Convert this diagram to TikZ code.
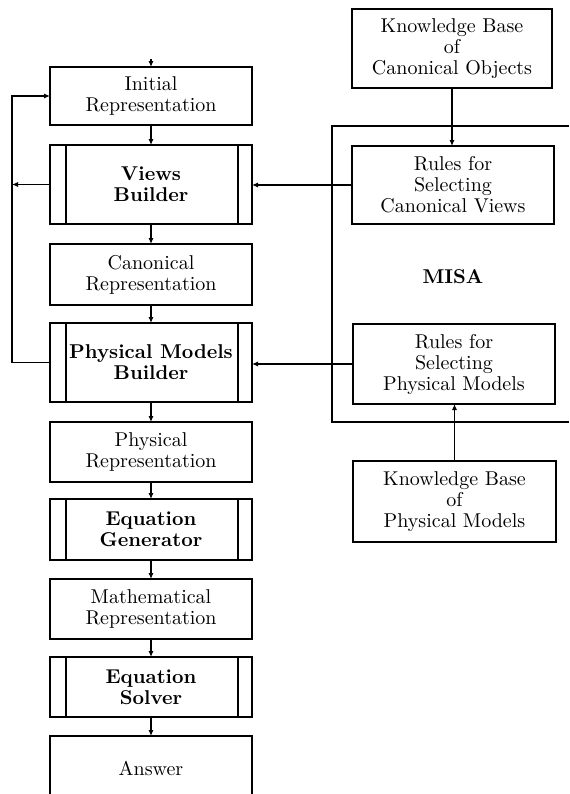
\documentclass[tikz,border=0pt]{standalone}
\usetikzlibrary{arrows.meta}

\tikzset{
	box/.style={draw, line width=0.8pt, inner sep=0pt, outer sep=0pt, align=center,
		font=\fontsize{10}{10.5}\selectfont},
	builder/.style={box, font=\fontsize{10}{10.5}\selectfont\bfseries},
	link/.style={line width=0.6pt, -{Latex[length=3pt,width=2.6pt]}},
	frame/.style={line width=0.7pt}}
\tikzset{every picture/.style={line width=0.6pt}}

\begin{document}
\begin{tikzpicture}[x=0.5pt,y=0.5pt,yscale=-1,xscale=1]
	\useasboundingbox (0,0) rectangle (569,794);
	\clip (0,0) rectangle (569,794);

	% left column
	\node[box, minimum width=101pt, minimum height=29pt] (init) at (151,96) {Initial\\Representation};
	\node[builder, minimum width=101pt, minimum height=39.5pt] (vb) at (151,184.5) {Views\\Builder};
	\node[box, minimum width=101pt, minimum height=30.5pt] (canon) at (151,274.5) {Canonical\\Representation};
	\node[builder, minimum width=101pt, minimum height=39.5pt] (pmb) at (151,362.5) {Physical Models\\Builder};
	\node[box, minimum width=101pt, minimum height=30pt] (phys) at (151,452) {Physical\\Representation};
	\node[builder, minimum width=101pt, minimum height=30.5pt] (eqg) at (151,529.5) {Equation\\Generator};
	\node[box, minimum width=101pt, minimum height=30pt] (math) at (151,609) {Mathematical\\Representation};
	\node[builder, minimum width=101pt, minimum height=30pt] (eqs) at (151,687) {Equation\\Solver};
	\node[box, minimum width=101pt, minimum height=32pt] (ans) at (151,768) {Answer};

	% inner bars of the builder boxes
	\foreach \b in {vb,pmb,eqg,eqs}{
		\draw ([xshift=8pt]\b.north west) -- ([xshift=8pt]\b.south west);
		\draw ([xshift=-7pt]\b.north east) -- ([xshift=-7pt]\b.south east);
	}

	% main chain
	\coordinate (start) at (151,59);
	\draw[link] (start) -- (init.north);
	\foreach \a/\b in {init/vb,vb/canon,canon/pmb,pmb/phys,phys/eqg,eqg/math,math/eqs,eqs/ans}
		\draw[link] (\a.south) -- (\b.north);

	% feedback loop
	\coordinate (lp) at (12,0);
	\draw[link] (pmb.west) -- (pmb.west -| lp) -- (init.west -| lp) -- (init.west);
	\draw[link] (vb.west) -- (vb.west -| lp);

	% MISA
	\draw[frame] (569,126) -- (332,126) -- (332,422) -- (569,422);
	\node[font=\bfseries] (misa) at (453,277) {MISA};

	\node[box, minimum width=100pt, minimum height=39.5pt] (kbc) at (452,48.5) {Knowledge Base\\of\\Canonical Objects};
	\node[box, minimum width=101pt, minimum height=39pt] (rcv) at (453,185) {Rules for\\Selecting\\Canonical Views};
	\node[box, minimum width=101pt, minimum height=40pt] (rpm) at (454,364) {Rules for\\Selecting\\Physical Models};
	\node[box, minimum width=101.5pt, minimum height=40.5pt] (kbp) at (454.5,501.5) {Knowledge Base\\of\\Physical Models};

	\draw[link] (kbc.south) -- (kbc.south |- rcv.north);
	\draw[link] (kbp.north) -- (kbp.north |- rpm.south);
	\draw[link] (rcv.west) -- (rcv.west -| vb.east);
	\draw[link] (rpm.west) -- (rpm.west -| pmb.east);

\end{tikzpicture}
\end{document}
